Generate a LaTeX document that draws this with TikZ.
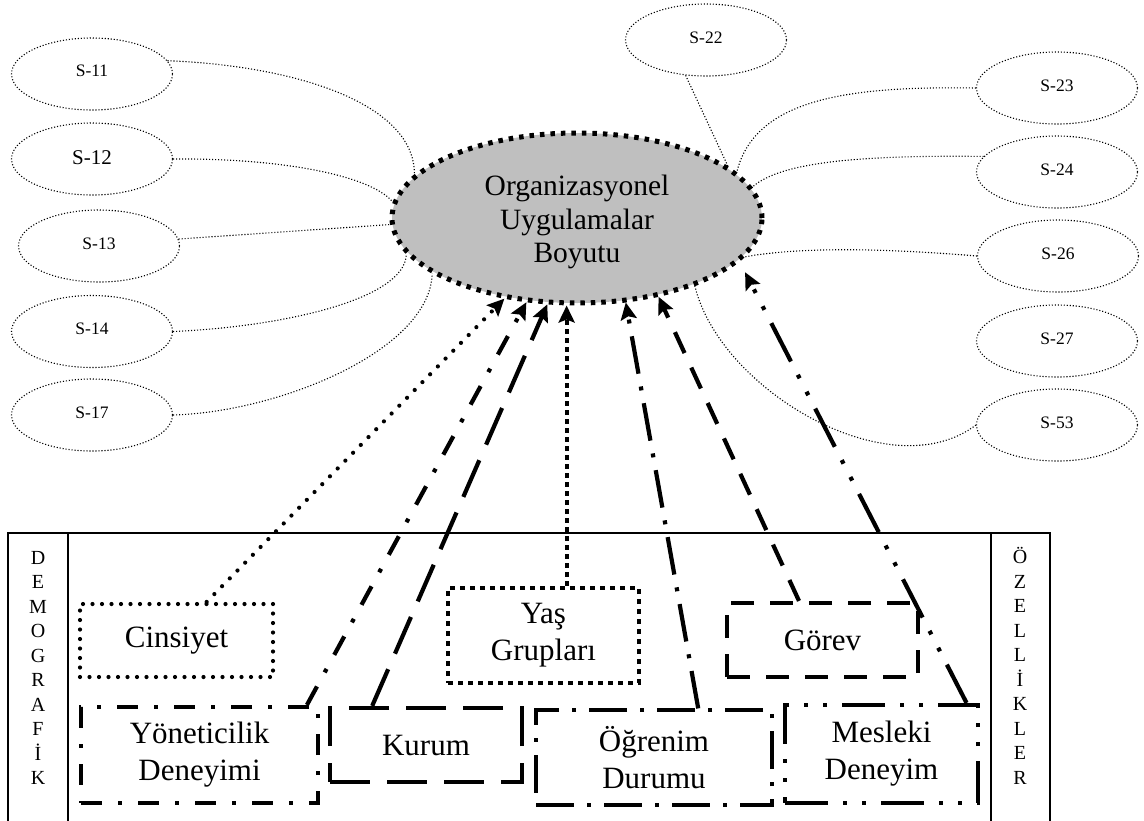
\documentclass[tikz,border=0pt]{standalone}
\usepackage{fontspec}
\setmainfont{Liberation Serif}
\usetikzlibrary{shapes.geometric,arrows.meta}

\tikzset{
  item/.style={ellipse, draw, line width=1.1pt, dash pattern=on 1.1pt off 1.9pt,
    minimum width=161pt, minimum height=72pt, inner sep=0pt,
    font=\fontsize{17.5}{20}\selectfont},
  link/.style={line width=1.1pt, dash pattern=on 1.1pt off 1.9pt},
  core/.style={ellipse, draw, fill=black!25, line width=5pt,
    dash pattern=on 4.5pt off 6pt, minimum width=370pt, minimum height=170pt,
    inner sep=0pt},
  coretext/.style={align=center, inner sep=0pt, font=\fontsize{29.5}{33.5}\selectfont},
  factor/.style={rectangle, draw, inner sep=0pt, line width=4.2pt, align=center,
    font=\fontsize{31}{37}\selectfont},
  roundDots/.style={line cap=round, dash pattern=on 0pt off 9.5pt},
  squareDots/.style={dash pattern=on 5pt off 5pt},
  longDash/.style={dash pattern=on 40pt off 17pt},
  shortDash/.style={dash pattern=on 23pt off 16pt},
  dashDotA/.style={dash pattern=on 21pt off 16pt on 4pt off 16pt},
  dashDotB/.style={dash pattern=on 38pt off 13pt on 4pt off 13pt},
  dashDotDot/.style={dash pattern=on 43pt off 15pt on 4pt off 15pt on 4pt off 15pt},
  arr/.style={line width=4.2pt, -{Stealth[length=17pt,width=16pt,inset=3pt]}},
  side/.style={align=center, inner sep=0pt, font=\fontsize{20}{24.5}\selectfont},
  frame/.style={line width=1.5pt},
}

\begin{document}
\begin{tikzpicture}[x=1pt, y=-1pt]
  \useasboundingbox (0,0) rectangle (1144,820);

  % lower frame with the two side captions
  \draw[frame] (8,533) rectangle (1050,824);
  \draw[frame] (68,533) -- (68,824);
  \draw[frame] (991,533) -- (991,824);
  \node[side] (demo) at (38,668) {D\\E\\M\\O\\G\\R\\A\\F\\İ\\K};
  \node[side] (ozel) at (1020,666) {Ö\\Z\\E\\L\\L\\İ\\K\\L\\E\\R};

  % item ellipses
  \node[item] (s11) at (92,74)    {\raisebox{6pt}{S-11}};
  \node[item, font=\fontsize{21}{24}\selectfont] (s12) at (92,159) {\raisebox{2pt}{S-12}};
  \node[item] (s13) at (99,246)   {\raisebox{5pt}{S-13}};
  \node[item] (s14) at (92,331.5) {\raisebox{5pt}{S-14}};
  \node[item] (s17) at (92,415)   {\raisebox{5pt}{S-17}};
  \node[item] (s22) at (706,40)   {\raisebox{5pt}{S-22}};
  \node[item] (s23) at (1057,88)  {\raisebox{5pt}{S-23}};
  \node[item] (s24) at (1057,172) {\raisebox{5pt}{S-24}};
  \node[item] (s26) at (1058,256) {\raisebox{5pt}{S-26}};
  \node[item] (s27) at (1057,341) {\raisebox{5pt}{S-27}};
  \node[item] (s53) at (1057,425) {\raisebox{5pt}{S-53}};

  % dimension
  \node[core] (org) at (577,218) {};
  \node[coretext] (orgtext) at (577,222) {Organizasyonel\\Uygulamalar\\Boyutu};

  % item links
  \draw[link] (s11.10) .. controls (300,66) and (415,105) .. (org.165);
  \draw[link] (s12.east) .. controls (280,158) and (370,175) .. (org.175);
  \draw[link] (s13.5) -- (org.182);
  \draw[link] (s14.east) .. controls (280,327) and (405,300) .. (org.192);
  \draw[link] (s17.east) .. controls (280,412) and (430,350) .. (org.201);
  \draw[link] (s22.240) -- (org.19);
  \draw[link] (s23.west) .. controls (850,86) and (755,98) .. (org.16);
  \draw[link] (s24.168) .. controls (860,155) and (780,162) .. (org.10);
  \draw[link] (s26.west) .. controls (880,248) and (800,247) .. (org.-13);
  \draw[link] (s53.west) .. controls (890,490) and (720,390) .. (org.-30);

  % demographic factors
  \node[factor, roundDots, minimum width=193pt, minimum height=73pt] (cins) at (176.5,640.5) {Cinsiyet};
  \node[factor, squareDots, minimum width=191pt, minimum height=95pt] (yas) at (543.5,635.5) {Yaş\\Grupları};
  \node[factor, shortDash, minimum width=191pt, minimum height=74pt] (gorev) at (822.5,640) {Görev};
  \node[factor, dashDotA, minimum width=237pt, minimum height=96pt] (yon) at (199.5,755) {Yöneticilik\\Deneyimi};
  \node[factor, longDash, minimum width=192pt, minimum height=74pt] (kurum) at (426,745) {Kurum};
  \node[factor, dashDotB, line width=3.2pt, minimum width=236pt, minimum height=95pt] (ogr) at (654,757.5) {Öğrenim\\Durumu};
  \node[factor, dashDotDot, minimum width=193pt, minimum height=98pt] (mes) at (881.5,754) {Mesleki\\Deneyim};

  % effects on the dimension
  \draw[arr, line cap=round, dash pattern=on 0pt off 11pt] (cins.52) -- (org.228);
  \draw[arr, dashDotA] (yon.25) -- (org.239);
  \draw[arr, longDash] (kurum.144) -- (org.251);
  \draw[arr, dash pattern=on 4.5pt off 4.5pt] (yas.65) -- (yas.65 |- org.south);
  \draw[arr, dashDotB] (ogr.48) -- (org.300);
  \draw[arr, shortDash] (gorev.121) -- (org.-44);
  \draw[arr, dashDotDot, shorten >=12pt] (mes.31) -- (org.-15);
\end{tikzpicture}
\end{document}
